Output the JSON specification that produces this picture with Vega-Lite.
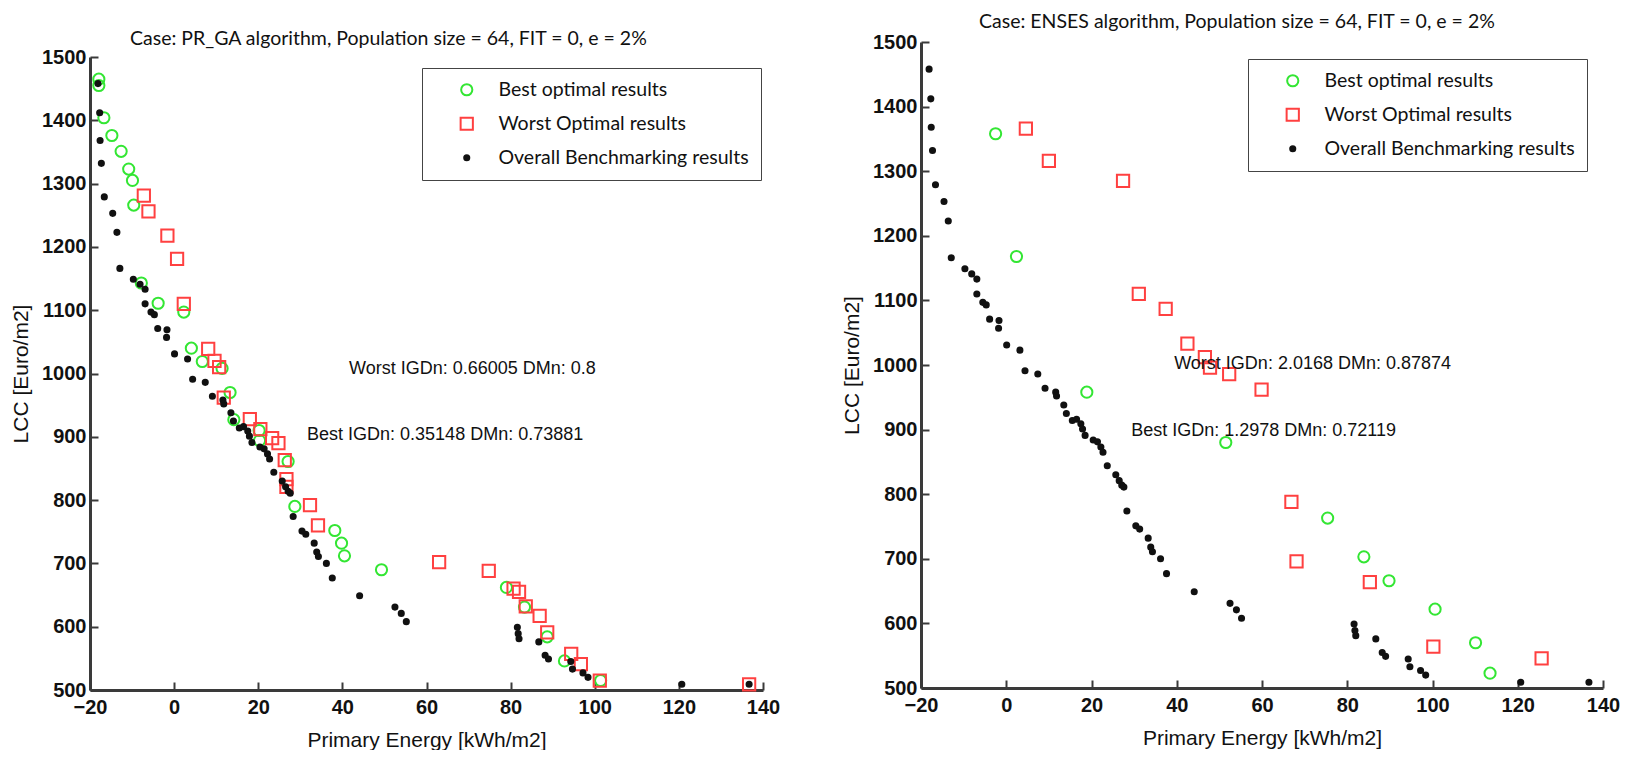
{
  "$schema": "https://vega.github.io/schema/vega-lite/v6.json",
  "padding": {"left": 10, "top": 11, "right": 5, "bottom": 0},
  "spacing": 61,
  "datasets": {
    "overall": [
      {"energy": -18.1, "lcc": 1458}, {"energy": -17.7, "lcc": 1412}, {"energy": -17.6, "lcc": 1368}, {"energy": -17.3, "lcc": 1332},
      {"energy": -16.6, "lcc": 1279}, {"energy": -14.6, "lcc": 1253}, {"energy": -13.6, "lcc": 1223}, {"energy": -12.9, "lcc": 1166},
      {"energy": -9.7, "lcc": 1149}, {"energy": -8.1, "lcc": 1141}, {"energy": -6.9, "lcc": 1133}, {"energy": -6.9, "lcc": 1110},
      {"energy": -5.5, "lcc": 1097}, {"energy": -4.7, "lcc": 1093}, {"energy": -3.9, "lcc": 1071}, {"energy": -1.7, "lcc": 1069},
      {"energy": -1.8, "lcc": 1057}, {"energy": 0.1, "lcc": 1031}, {"energy": 3.2, "lcc": 1023}, {"energy": 4.4, "lcc": 991},
      {"energy": 7.4, "lcc": 986}, {"energy": 9.1, "lcc": 964}, {"energy": 11.6, "lcc": 958}, {"energy": 11.8, "lcc": 952},
      {"energy": 13.5, "lcc": 938}, {"energy": 14.1, "lcc": 925}, {"energy": 15.5, "lcc": 914}, {"energy": 16.5, "lcc": 916},
      {"energy": 17.5, "lcc": 909}, {"energy": 17.9, "lcc": 901}, {"energy": 18.5, "lcc": 891}, {"energy": 20.4, "lcc": 884},
      {"energy": 21.4, "lcc": 881}, {"energy": 22.2, "lcc": 873}, {"energy": 22.7, "lcc": 865}, {"energy": 23.7, "lcc": 844},
      {"energy": 25.7, "lcc": 830}, {"energy": 26.5, "lcc": 821}, {"energy": 27.1, "lcc": 814}, {"energy": 27.6, "lcc": 811},
      {"energy": 28.3, "lcc": 774}, {"energy": 30.4, "lcc": 751}, {"energy": 31.3, "lcc": 746}, {"energy": 33.3, "lcc": 732},
      {"energy": 33.9, "lcc": 718}, {"energy": 34.3, "lcc": 711}, {"energy": 36.2, "lcc": 700}, {"energy": 37.6, "lcc": 677},
      {"energy": 44.1, "lcc": 649}, {"energy": 52.5, "lcc": 631}, {"energy": 54.0, "lcc": 621}, {"energy": 55.2, "lcc": 608},
      {"energy": 81.6, "lcc": 599}, {"energy": 81.8, "lcc": 589}, {"energy": 82.0, "lcc": 581}, {"energy": 86.7, "lcc": 576},
      {"energy": 88.2, "lcc": 555}, {"energy": 89.0, "lcc": 549}, {"energy": 94.3, "lcc": 545}, {"energy": 94.7, "lcc": 533},
      {"energy": 97.2, "lcc": 527}, {"energy": 98.4, "lcc": 520}, {"energy": 120.7, "lcc": 509}, {"energy": 136.7, "lcc": 509}
    ],
    "prga": [
      {"series": "Best optimal results", "energy": -17.9, "lcc": 1465}, {"series": "Best optimal results", "energy": -17.9, "lcc": 1455},
      {"series": "Best optimal results", "energy": -16.7, "lcc": 1404}, {"series": "Best optimal results", "energy": -14.8, "lcc": 1376},
      {"series": "Best optimal results", "energy": -12.6, "lcc": 1351}, {"series": "Best optimal results", "energy": -10.8, "lcc": 1323},
      {"series": "Best optimal results", "energy": -9.9, "lcc": 1305}, {"series": "Best optimal results", "energy": -9.6, "lcc": 1266},
      {"series": "Best optimal results", "energy": -7.8, "lcc": 1143}, {"series": "Best optimal results", "energy": -3.8, "lcc": 1111},
      {"series": "Best optimal results", "energy": 2.3, "lcc": 1097}, {"series": "Best optimal results", "energy": 4.1, "lcc": 1040},
      {"series": "Best optimal results", "energy": 6.7, "lcc": 1019}, {"series": "Best optimal results", "energy": 11.4, "lcc": 1008},
      {"series": "Best optimal results", "energy": 13.3, "lcc": 970}, {"series": "Best optimal results", "energy": 14.2, "lcc": 927},
      {"series": "Best optimal results", "energy": 20.2, "lcc": 910}, {"series": "Best optimal results", "energy": 20.3, "lcc": 894},
      {"series": "Best optimal results", "energy": 27.1, "lcc": 861}, {"series": "Best optimal results", "energy": 28.7, "lcc": 790},
      {"series": "Best optimal results", "energy": 38.2, "lcc": 752}, {"series": "Best optimal results", "energy": 39.8, "lcc": 732},
      {"series": "Best optimal results", "energy": 40.5, "lcc": 712}, {"series": "Best optimal results", "energy": 49.3, "lcc": 690},
      {"series": "Best optimal results", "energy": 79.0, "lcc": 662}, {"series": "Best optimal results", "energy": 83.3, "lcc": 631},
      {"series": "Best optimal results", "energy": 88.7, "lcc": 584}, {"series": "Best optimal results", "energy": 92.8, "lcc": 546},
      {"series": "Best optimal results", "energy": 101.4, "lcc": 515},
      {"series": "Worst Optimal results", "energy": -7.2, "lcc": 1281}, {"series": "Worst Optimal results", "energy": -6.1, "lcc": 1256},
      {"series": "Worst Optimal results", "energy": -1.6, "lcc": 1218}, {"series": "Worst Optimal results", "energy": 0.7, "lcc": 1181},
      {"series": "Worst Optimal results", "energy": 2.3, "lcc": 1110}, {"series": "Worst Optimal results", "energy": 8.1, "lcc": 1039},
      {"series": "Worst Optimal results", "energy": 9.6, "lcc": 1020}, {"series": "Worst Optimal results", "energy": 10.7, "lcc": 1010},
      {"series": "Worst Optimal results", "energy": 11.8, "lcc": 962}, {"series": "Worst Optimal results", "energy": 18.0, "lcc": 928},
      {"series": "Worst Optimal results", "energy": 20.5, "lcc": 912}, {"series": "Worst Optimal results", "energy": 23.3, "lcc": 898},
      {"series": "Worst Optimal results", "energy": 24.8, "lcc": 890}, {"series": "Worst Optimal results", "energy": 26.3, "lcc": 863},
      {"series": "Worst Optimal results", "energy": 26.7, "lcc": 833}, {"series": "Worst Optimal results", "energy": 26.7, "lcc": 821},
      {"series": "Worst Optimal results", "energy": 32.3, "lcc": 792}, {"series": "Worst Optimal results", "energy": 34.2, "lcc": 760},
      {"series": "Worst Optimal results", "energy": 63.0, "lcc": 702}, {"series": "Worst Optimal results", "energy": 74.8, "lcc": 688},
      {"series": "Worst Optimal results", "energy": 80.7, "lcc": 660}, {"series": "Worst Optimal results", "energy": 82.0, "lcc": 655},
      {"series": "Worst Optimal results", "energy": 83.6, "lcc": 632}, {"series": "Worst Optimal results", "energy": 86.9, "lcc": 617},
      {"series": "Worst Optimal results", "energy": 88.7, "lcc": 591}, {"series": "Worst Optimal results", "energy": 94.4, "lcc": 557},
      {"series": "Worst Optimal results", "energy": 96.7, "lcc": 541}, {"series": "Worst Optimal results", "energy": 101.2, "lcc": 515},
      {"series": "Worst Optimal results", "energy": 136.7, "lcc": 509}
    ],
    "enses": [
      {"series": "Best optimal results", "energy": -2.5, "lcc": 1358}, {"series": "Best optimal results", "energy": 2.4, "lcc": 1168},
      {"series": "Best optimal results", "energy": 18.9, "lcc": 958}, {"series": "Best optimal results", "energy": 51.5, "lcc": 880},
      {"series": "Best optimal results", "energy": 75.4, "lcc": 763}, {"series": "Best optimal results", "energy": 83.9, "lcc": 703},
      {"series": "Best optimal results", "energy": 89.8, "lcc": 666}, {"series": "Best optimal results", "energy": 100.6, "lcc": 622},
      {"series": "Best optimal results", "energy": 110.1, "lcc": 570}, {"series": "Best optimal results", "energy": 113.5, "lcc": 523},
      {"series": "Worst Optimal results", "energy": 4.6, "lcc": 1366}, {"series": "Worst Optimal results", "energy": 10.0, "lcc": 1316},
      {"series": "Worst Optimal results", "energy": 27.4, "lcc": 1285}, {"series": "Worst Optimal results", "energy": 31.1, "lcc": 1110},
      {"series": "Worst Optimal results", "energy": 37.4, "lcc": 1087}, {"series": "Worst Optimal results", "energy": 42.5, "lcc": 1033},
      {"series": "Worst Optimal results", "energy": 46.6, "lcc": 1012}, {"series": "Worst Optimal results", "energy": 47.8, "lcc": 996},
      {"series": "Worst Optimal results", "energy": 52.3, "lcc": 986}, {"series": "Worst Optimal results", "energy": 59.9, "lcc": 962},
      {"series": "Worst Optimal results", "energy": 66.9, "lcc": 788}, {"series": "Worst Optimal results", "energy": 68.1, "lcc": 696},
      {"series": "Worst Optimal results", "energy": 85.3, "lcc": 664}, {"series": "Worst Optimal results", "energy": 100.2, "lcc": 564},
      {"series": "Worst Optimal results", "energy": 125.6, "lcc": 546}
    ]
  },
  "hconcat": [
    {
      "width": 673,
      "height": 648,
      "title": {"text": "Case: PR_GA algorithm, Population size = 64, FIT = 0, e = 2%", "anchor": "start", "dx": 40, "frame": "group", "offset": -7},
      "layer": [
        {
          "data": {"name": "prga"},
          "mark": {"type": "point", "strokeWidth": 2, "opacity": 1},
          "encoding": {
            "x": {"field": "energy", "type": "quantitative", "scale": {"domain": [-20, 140], "nice": false, "zero": false}, "axis": {"values": [-20, 0, 20, 40, 60, 80, 100, 120, 140], "title": "Primary Energy [kWh/m2]", "labelPadding": 15, "titlePadding": 12}},
            "y": {"field": "lcc", "type": "quantitative", "scale": {"domain": [500, 1500], "range": [648, 15], "nice": false, "zero": false}, "axis": {"values": [500, 600, 700, 800, 900, 1000, 1100, 1200, 1300, 1400, 1500], "title": "LCC [Euro/m2]"}},
            "shape": {"field": "series", "type": "nominal", "scale": {"domain": ["Best optimal results", "Worst Optimal results", "Overall Benchmarking results"], "range": ["circle", "square", "circle"]}, "legend": {"title": null, "legendX": 332, "legendY": 26}},
            "stroke": {"field": "series", "type": "nominal", "scale": {"domain": ["Best optimal results", "Worst Optimal results", "Overall Benchmarking results"], "range": ["#33e633", "#ff4040", "#111111"]}, "legend": {"title": null, "legendX": 332, "legendY": 26}},
            "fill": {"field": "series", "type": "nominal", "scale": {"domain": ["Best optimal results", "Worst Optimal results", "Overall Benchmarking results"], "range": ["transparent", "transparent", "#111111"]}, "legend": {"title": null, "legendX": 332, "legendY": 26}},
            "size": {"field": "series", "type": "nominal", "scale": {"type": "ordinal", "domain": ["Best optimal results", "Worst Optimal results", "Overall Benchmarking results"], "range": [125, 150, 26]}, "legend": {"title": null, "legendX": 332, "legendY": 26}}
          }
        },
        {
          "data": {"name": "overall"},
          "transform": [{"calculate": "'Overall Benchmarking results'", "as": "series"}],
          "mark": {"type": "point", "strokeWidth": 2, "opacity": 1},
          "encoding": {
            "x": {"field": "energy", "type": "quantitative"},
            "y": {"field": "lcc", "type": "quantitative"},
            "shape": {"field": "series", "type": "nominal", "scale": {"domain": ["Best optimal results", "Worst Optimal results", "Overall Benchmarking results"], "range": ["circle", "square", "circle"]}, "legend": {"title": null, "legendX": 332, "legendY": 26}},
            "stroke": {"field": "series", "type": "nominal", "scale": {"domain": ["Best optimal results", "Worst Optimal results", "Overall Benchmarking results"], "range": ["#33e633", "#ff4040", "#111111"]}, "legend": {"title": null, "legendX": 332, "legendY": 26}},
            "fill": {"field": "series", "type": "nominal", "scale": {"domain": ["Best optimal results", "Worst Optimal results", "Overall Benchmarking results"], "range": ["transparent", "transparent", "#111111"]}, "legend": {"title": null, "legendX": 332, "legendY": 26}},
            "size": {"field": "series", "type": "nominal", "scale": {"type": "ordinal", "domain": ["Best optimal results", "Worst Optimal results", "Overall Benchmarking results"], "range": [125, 150, 26]}, "legend": {"title": null, "legendX": 332, "legendY": 26}}
          }
        },
        {
          "data": {"values": [{}]},
          "mark": {"type": "text", "align": "left", "baseline": "middle", "font": "Liberation Sans", "fontSize": 18, "color": "#111", "text": "Worst IGDn: 0.66005 DMn: 0.8"},
          "encoding": {"x": {"datum": 41.6}, "y": {"datum": 1007}}
        },
        {
          "data": {"values": [{}]},
          "mark": {"type": "text", "align": "left", "baseline": "middle", "font": "Liberation Sans", "fontSize": 18, "color": "#111", "text": "Best IGDn: 0.35148 DMn: 0.73881"},
          "encoding": {"x": {"datum": 31.6}, "y": {"datum": 903}}
        }
      ]
    },
    {
      "width": 682,
      "height": 646,
      "title": {"text": "Case: ENSES algorithm, Population size = 64, FIT = 0, e = 2%", "anchor": "start", "dx": 58, "frame": "group", "offset": 0},
      "layer": [
        {
          "data": {"name": "enses"},
          "mark": {"type": "point", "strokeWidth": 2, "opacity": 1},
          "encoding": {
            "x": {"field": "energy", "type": "quantitative", "scale": {"domain": [-20, 140], "nice": false, "zero": false}, "axis": {"values": [-20, 0, 20, 40, 60, 80, 100, 120, 140], "title": "Primary Energy [kWh/m2]", "labelPadding": 15, "titlePadding": 12}},
            "y": {"field": "lcc", "type": "quantitative", "scale": {"domain": [500, 1500], "nice": false, "zero": false}, "axis": {"values": [500, 600, 700, 800, 900, 1000, 1100, 1200, 1300, 1400, 1500], "title": "LCC [Euro/m2]"}},
            "shape": {"field": "series", "type": "nominal", "scale": {"domain": ["Best optimal results", "Worst Optimal results", "Overall Benchmarking results"], "range": ["circle", "square", "circle"]}, "legend": {"title": null, "legendX": 327, "legendY": 17}},
            "stroke": {"field": "series", "type": "nominal", "scale": {"domain": ["Best optimal results", "Worst Optimal results", "Overall Benchmarking results"], "range": ["#33e633", "#ff4040", "#111111"]}, "legend": {"title": null, "legendX": 327, "legendY": 17}},
            "fill": {"field": "series", "type": "nominal", "scale": {"domain": ["Best optimal results", "Worst Optimal results", "Overall Benchmarking results"], "range": ["transparent", "transparent", "#111111"]}, "legend": {"title": null, "legendX": 327, "legendY": 17}},
            "size": {"field": "series", "type": "nominal", "scale": {"type": "ordinal", "domain": ["Best optimal results", "Worst Optimal results", "Overall Benchmarking results"], "range": [125, 150, 26]}, "legend": {"title": null, "legendX": 327, "legendY": 17}}
          }
        },
        {
          "data": {"name": "overall"},
          "transform": [{"calculate": "'Overall Benchmarking results'", "as": "series"}],
          "mark": {"type": "point", "strokeWidth": 2, "opacity": 1},
          "encoding": {
            "x": {"field": "energy", "type": "quantitative"},
            "y": {"field": "lcc", "type": "quantitative"},
            "shape": {"field": "series", "type": "nominal", "scale": {"domain": ["Best optimal results", "Worst Optimal results", "Overall Benchmarking results"], "range": ["circle", "square", "circle"]}, "legend": {"title": null, "legendX": 327, "legendY": 17}},
            "stroke": {"field": "series", "type": "nominal", "scale": {"domain": ["Best optimal results", "Worst Optimal results", "Overall Benchmarking results"], "range": ["#33e633", "#ff4040", "#111111"]}, "legend": {"title": null, "legendX": 327, "legendY": 17}},
            "fill": {"field": "series", "type": "nominal", "scale": {"domain": ["Best optimal results", "Worst Optimal results", "Overall Benchmarking results"], "range": ["transparent", "transparent", "#111111"]}, "legend": {"title": null, "legendX": 327, "legendY": 17}},
            "size": {"field": "series", "type": "nominal", "scale": {"type": "ordinal", "domain": ["Best optimal results", "Worst Optimal results", "Overall Benchmarking results"], "range": [125, 150, 26]}, "legend": {"title": null, "legendX": 327, "legendY": 17}}
          }
        },
        {
          "data": {"values": [{}]},
          "mark": {"type": "text", "align": "left", "baseline": "middle", "font": "Liberation Sans", "fontSize": 18, "color": "#111", "text": "Worst IGDn: 2.0168 DMn: 0.87874"},
          "encoding": {"x": {"datum": 39.4}, "y": {"datum": 1002}}
        },
        {
          "data": {"values": [{}]},
          "mark": {"type": "text", "align": "left", "baseline": "middle", "font": "Liberation Sans", "fontSize": 18, "color": "#111", "text": "Best IGDn: 1.2978 DMn: 0.72119"},
          "encoding": {"x": {"datum": 29.3}, "y": {"datum": 898}}
        }
      ]
    }
  ],
  "resolve": {
    "scale": {"shape": "independent", "stroke": "independent", "fill": "independent", "size": "independent"},
    "legend": {"shape": "independent", "stroke": "independent", "fill": "independent", "size": "independent"}
  },
  "config": {
    "view": {"stroke": null},
    "background": "white",
    "title": {"font": "Lato", "fontSize": 19.5, "fontWeight": "normal", "color": "#111"},
    "axis": {
      "grid": false,
      "format": "d",
      "domainColor": "#3a3a3a",
      "domainWidth": 3,
      "tickColor": "#3a3a3a",
      "tickWidth": 2,
      "tickSize": -8,
      "labelFont": "Liberation Sans",
      "labelFontSize": 20,
      "labelFontWeight": "bold",
      "labelColor": "#111",
      "labelPadding": 12,
      "labelFlush": false,
      "labelOverlap": false,
      "titleFont": "Liberation Sans",
      "titleFontSize": 21,
      "titleFontWeight": "normal",
      "titleColor": "#111",
      "titlePadding": 10
    },
    "legend": {
      "orient": "none",
      "strokeColor": "#444",
      "fillColor": "white",
      "padding": 12,
      "symbolOffset": 23,
      "labelOffset": 22,
      "rowPadding": 13,
      "labelFont": "Lato",
      "labelFontSize": 19.5,
      "labelColor": "#111",
      "labelLimit": 400,
      "symbolStrokeWidth": 2
    }
  }
}
